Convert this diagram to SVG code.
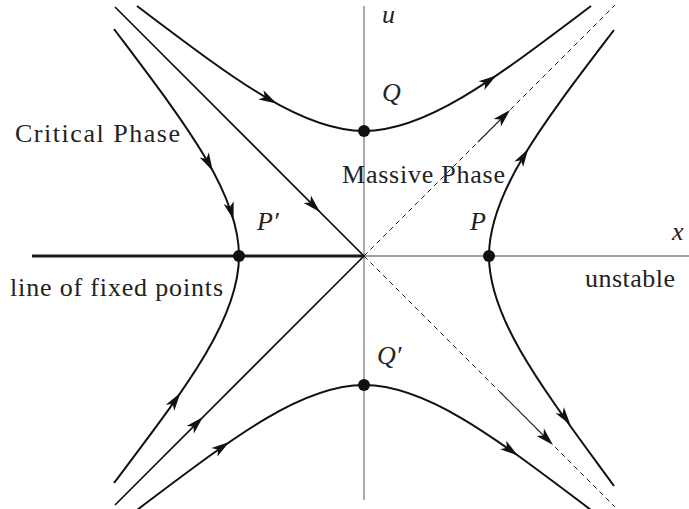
<svg xmlns="http://www.w3.org/2000/svg" xmlns:xlink="http://www.w3.org/1999/xlink" width="689" height="509" viewBox="0 0 689 509">
<style>
.axis{stroke:#808080;stroke-width:1.3;fill:none}
.fixed{stroke:#1a1a1a;stroke-width:3.2;fill:none}
.flow{stroke:#111;stroke-width:2;fill:none}
.sep{stroke:#111;stroke-width:1.7;fill:none}
.dash{stroke:#222;stroke-width:1;fill:none;stroke-dasharray:5 4}
.thin{stroke:#222;stroke-width:1.1;fill:none}
.dot{fill:#111}
.ah{fill:#111}
.lbl{font-family:'Liberation Serif','Times New Roman',serif;font-size:26px;fill:#222}
.math{font-family:'Liberation Serif','Times New Roman',serif;font-style:italic;font-size:26px;fill:#222}
</style>
<defs>
<path id="ah" d="M0,0 L-18,-5.2 L-13.5,0 L-18,5.2 Z"/>
</defs>
<g id="axes">
<line class="axis" x1="364" y1="6" x2="364" y2="500"/>
<line class="axis" x1="364" y1="256" x2="689" y2="256"/>
<line class="fixed" x1="32" y1="256" x2="364" y2="256"/>
</g>
<g id="connectors">
<path class="flow" d="M364,131 C300,131 230,76 137,6"/>
<path class="flow" d="M364,131 C428,131 498,76 591,6"/>
<path class="flow" d="M364,385 C300,385 230,440 137,510"/>
<path class="flow" d="M364,385 C428,385 498,440 591,510"/>
<path class="flow" d="M239,256 C239,192 184,122 114,29"/>
<path class="flow" d="M239,256 C239,320 184,390 114,483"/>
<path class="flow" d="M489,256 C489,192 544,122 614,30"/>
<path class="flow" d="M489,256 C489,320 544,390 614,486"/>
<line class="sep" x1="115" y1="7" x2="364" y2="256"/>
<line class="sep" x1="364" y1="256" x2="115" y2="505"/>
<line class="dash" x1="364" y1="256" x2="615" y2="5"/>
<line class="dash" x1="364" y1="256" x2="615" y2="507"/>
<line class="thin" x1="478" y1="142" x2="505" y2="115"/>
<line class="thin" x1="500" y1="392" x2="548" y2="440"/>
<use xlink:href="#ah" class="ah" transform="translate(276.7,103.6) rotate(29)"/>
<use xlink:href="#ah" class="ah" transform="translate(496.4,75.5) rotate(-34.3)"/>
<use xlink:href="#ah" class="ah" transform="translate(229.3,442.1) rotate(-34.5)"/>
<use xlink:href="#ah" class="ah" transform="translate(517.9,455.6) rotate(35.7)"/>
<use xlink:href="#ah" class="ah" transform="translate(212.8,170.9) rotate(61.5)"/>
<use xlink:href="#ah" class="ah" transform="translate(233.6,220) rotate(74.1)"/>
<use xlink:href="#ah" class="ah" transform="translate(180.3,393) rotate(-55.4)"/>
<use xlink:href="#ah" class="ah" transform="translate(528.2,148.9) rotate(-58.2)"/>
<use xlink:href="#ah" class="ah" transform="translate(570.4,424.8) rotate(53.7)"/>
<use xlink:href="#ah" class="ah" transform="translate(320,212) rotate(45)"/>
<use xlink:href="#ah" class="ah" transform="translate(203,417) rotate(-45)"/>
<use xlink:href="#ah" class="ah" transform="translate(510,110) rotate(-45)"/>
<use xlink:href="#ah" class="ah" transform="translate(553,445) rotate(45)"/>
</g>
<g id="node-Q"><circle class="dot" cx="364" cy="131" r="6"/><text class="math" x="382" y="101">Q</text></g>
<g id="node-Qp"><circle class="dot" cx="364" cy="385" r="6"/><text class="math" x="377" y="364">Q′</text></g>
<g id="node-P"><circle class="dot" cx="489" cy="256" r="6"/><text class="math" x="470" y="230">P</text></g>
<g id="node-Pp"><circle class="dot" cx="239" cy="256" r="6"/><text class="math" x="257" y="230">P′</text></g>
<g id="labels">
<text class="math" x="382" y="23">u</text>
<text class="math" x="672" y="240">x</text>
<text class="lbl" x="15" y="142" textLength="165">Critical Phase</text>
<text class="lbl" x="342" y="183" textLength="163">Massive Phase</text>
<text class="lbl" x="10" y="296" textLength="213">line of fixed points</text>
<text class="lbl" x="585" y="287" textLength="90">unstable</text>
</g>
</svg>
